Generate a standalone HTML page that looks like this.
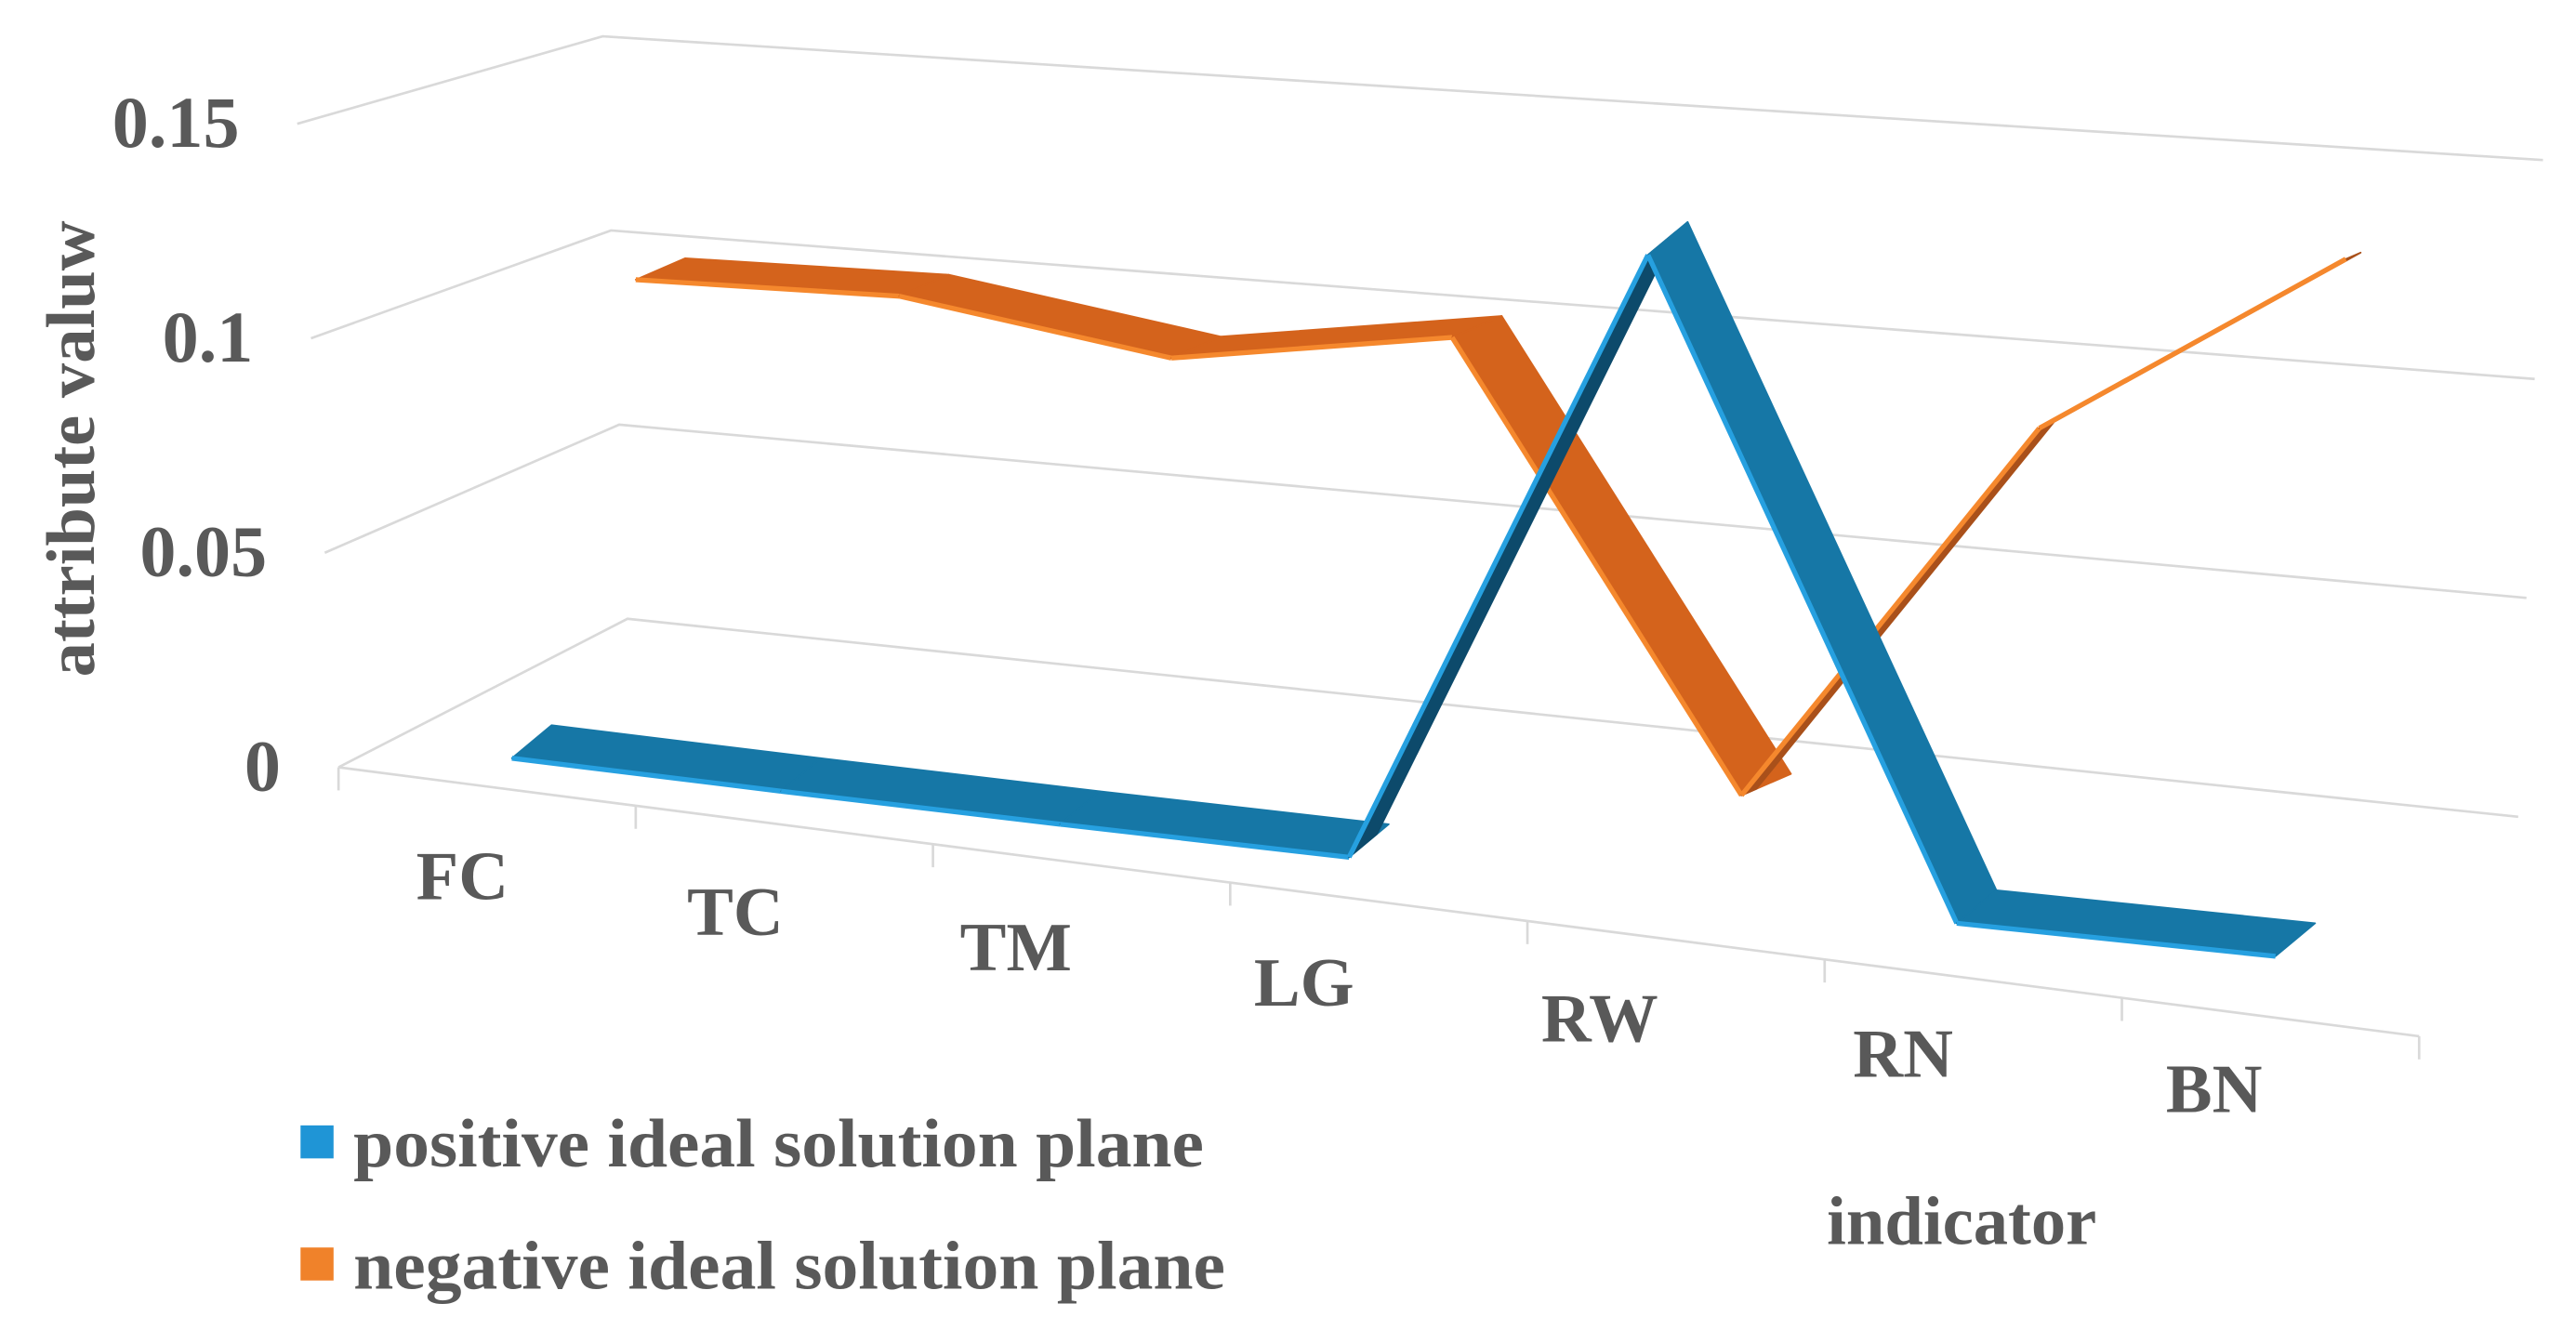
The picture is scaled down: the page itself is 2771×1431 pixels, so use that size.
<!DOCTYPE html>
<html><head><meta charset="utf-8"><style>
html,body{margin:0;padding:0;background:#fff;}
svg{display:block;}
text{font-family:"Liberation Serif",serif;font-weight:bold;fill:#595959;}
</style></head><body>
<svg id="chart" width="2771" height="1431" viewBox="0 0 1560 806" preserveAspectRatio="none" xmlns="http://www.w3.org/2000/svg">
<g id="grid"></g>
<g id="axes"></g>
<g id="series"></g>
<g>
<rect x="182" y="682" width="20" height="20" fill="#1f95d6"/>
<text x="214" y="707" font-size="42" textLength="515" lengthAdjust="spacingAndGlyphs">positive ideal solution plane</text>
<rect x="182" y="756" width="20" height="20" fill="#f0822a"/>
<text x="214" y="781" font-size="42" textLength="528" lengthAdjust="spacingAndGlyphs">negative ideal solution plane</text>
</g>
<text x="1188" y="754" font-size="42" text-anchor="middle">indicator</text>
<text transform="translate(57,272) rotate(-90)" font-size="42" text-anchor="middle">attribute valuw</text>
</svg>
<script>
const categories = ["FC","TC","TM","LG","RW","RN","BN"];
const positiveValues = [0.001,0.001,0.001,0.001,0.155,0.001,0.001];
const negativeValues = [0.093,0.097,0.09,0.103,0.0,0.097,0.146];
const yTicks = [0,0.05,0.1,0.15];
const yTickLabels = ["0","0.05","0.1","0.15"];

const NS="http://www.w3.org/2000/svg";
function mk(parent,tag,attrs){const e=document.createElementNS(NS,tag);for(const k in attrs)e.setAttribute(k,attrs[k]);parent.appendChild(e);return e;}
const grid=document.getElementById('grid'),axes=document.getElementById('axes'),ser=document.getElementById('series');

function lerp(a,b,t){return a+(b-a)*t;}
function gridPts(v){const t=v/0.15;
 return [[lerp(205,180,t),lerp(465,75,t)],[lerp(380,365,t),lerp(375,22,t)],[lerp(1525,1540,t),lerp(495,97,t)]];}
yTicks.forEach((v,i)=>{
 const p=gridPts(v);
 const l=mk(grid,'polyline',{points:p.map(q=>q.join(',')).join(' '),fill:'none',stroke:'#d9d9d9','stroke-width':1.5});
 
 
 const t=mk(axes,'text',{x:p[0][0]-35,y:p[0][1]+14,'font-size':44,'text-anchor':'end'});
 t.textContent=yTickLabels[i];
 
 
});
const fe=mk(axes,'line',{x1:205,y1:465,x2:1465,y2:628,stroke:'#d9d9d9','stroke-width':1.5});


const n=categories.length;
function fx(k){return 205+k*(1465-205)/n;}
function fy(k){return 465+k*(628-465)/n;}
for(let k=0;k<=n;k++){
 const tk=mk(axes,'line',{x1:fx(k),y1:fy(k),x2:fx(k),y2:fy(k)+14,stroke:'#d9d9d9','stroke-width':1.5});
 
 
}
function labelX(i){return 280+163*i+2.3*i*i;}
function labelY(i){return 545+21.5*i;}
categories.forEach((c,i)=>{
 const t=mk(axes,'text',{x:labelX(i),y:labelY(i),'font-size':42,'text-anchor':'middle'});
 t.textContent=c;
 
 
});

const SCALE=2500;
function drawRibbon(vals,x0,sx,qx,y0,sy,d,riseF,cTop,cFront,cDark,name){
 const g=mk(ser,'g',{});
 
 
 const pts=vals.map((v,i)=>[x0+sx*i+qx*i*i,y0+sy*i-v*SCALE]);
 for(let i=0;i<pts.length-1;i++){
  const a=pts[i],b=pts[i+1];
  const rising=vals[i+1]>vals[i]+0.02;
  const dd=rising?[d[0]*riseF,d[1]*riseF]:d;
  const poly=[a,b,[b[0]+dd[0],b[1]+dd[1]],[a[0]+dd[0],a[1]+dd[1]]];
  const p=mk(g,'polygon',{points:poly.map(q=>q.join(',')).join(' '),fill:rising?cDark:cTop,stroke:rising?cDark:cTop,'stroke-width':1,'stroke-linejoin':'round'});
  
  
  const e=mk(g,'line',{x1:a[0],y1:a[1],x2:b[0],y2:b[1],stroke:cFront,'stroke-width':3});
  
  
 }
}
drawRibbon(negativeValues,385,157,2.6,402,20,[30,-13],0.3,'#d4631c','#f5882d','#a9501a','negative-series');
drawRibbon(positiveValues,310,160,3,462,20,[24,-20],0.7,'#1677a6','#26a0e0','#0d4a6b','positive-series');
</script>
</body></html>
